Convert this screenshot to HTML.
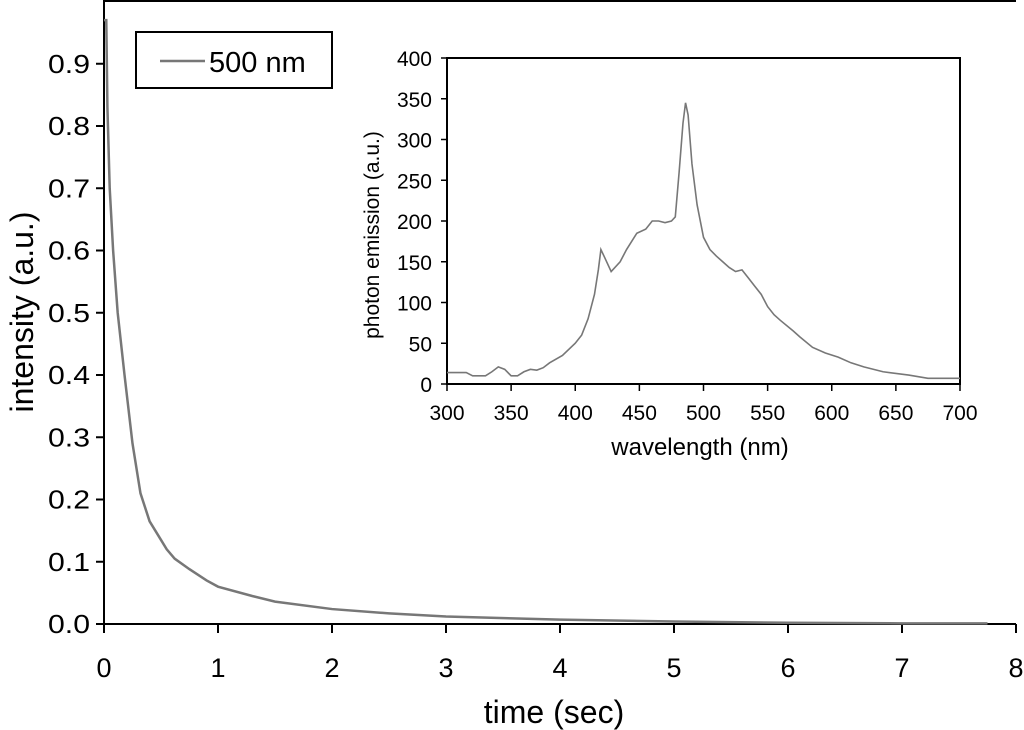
<!DOCTYPE html>
<html><head><meta charset="utf-8"><style>
html,body{margin:0;padding:0;background:#fff;}
svg{display:block;font-family:"Liberation Sans",Arial,sans-serif;}
</style></head><body>
<svg id="chart" width="1024" height="730" viewBox="0 0 1024 730"></svg>
<script>
const mainT=[0,0.02,0.03,0.05,0.08,0.12,0.18,0.25,0.32,0.4,0.5,0.55,0.62,0.75,0.9,1.0,1.3,1.5,2,2.5,3,4,5,6,7,7.75];
const mainI=[0.97,0.97,0.83,0.7,0.6,0.5,0.4,0.29,0.21,0.165,0.135,0.12,0.105,0.088,0.07,0.06,0.045,0.036,0.024,0.017,0.012,0.007,0.004,0.002,0.001,0.001];
const mainXTicks=[0,1,2,3,4,5,6,7,8];
const mainYTicks=["0.0","0.1","0.2","0.3","0.4","0.5","0.6","0.7","0.8","0.9"];
const insW=[300,315,320,330,335,340,345,350,355,360,365,370,375,380,390,400,405,410,415,418,420,423,428,435,440,448,455,460,465,470,475,478,481,484,486,488,491,495,500,505,510,515,520,525,530,535,540,545,550,555,560,570,575,585,595,605,615,625,640,660,675,700];
const insV=[14,14,10,10,15,21,18,10,10,15,18,17,20,26,35,50,60,80,110,140,165,155,138,150,165,185,190,200,200,198,200,205,260,320,345,330,270,220,180,165,157,150,143,138,140,130,120,110,95,85,78,65,58,45,38,33,26,21,15,11,7,7];
const insXTicks=[300,350,400,450,500,550,600,650,700];
const insYTicks=[0,50,100,150,200,250,300,350,400];

const svg=document.getElementById('chart');
const NS='http://www.w3.org/2000/svg';
function mk(tag,attrs,parent){const e=document.createElementNS(NS,tag);for(const k in attrs)e.setAttribute(k,attrs[k]);(parent||svg).appendChild(e);return e;}
function txt(s,attrs){const e=mk('text',attrs);e.textContent=s;return e;}

const X=t=>104+t*114, Y=v=>624-v*622.5;
let e;
e=mk('line',{x1:104,y1:0,x2:104,y2:624,stroke:'#000','stroke-width':2});

e=mk('line',{x1:104,y1:1,x2:1016,y2:1,stroke:'#000','stroke-width':2});

e=mk('line',{x1:104,y1:624,x2:1016,y2:624,stroke:'#000','stroke-width':2});

mainXTicks.forEach(t=>{
  mk('line',{x1:X(t),y1:624,x2:X(t),y2:633,stroke:'#000','stroke-width':2});
  e=txt(String(t),{x:X(t),y:677,'font-size':27,'text-anchor':'middle'});
  
});
mainYTicks.forEach(s=>{
  const v=parseFloat(s);
  mk('line',{x1:96,y1:Y(v),x2:104,y2:Y(v),stroke:'#000','stroke-width':2});
  e=txt(s,{x:90,y:Y(v)+9,'font-size':26,'text-anchor':'end',textLength:42,lengthAdjust:'spacingAndGlyphs'});
  
});
e=txt('time (sec)',{x:554,y:723,'font-size':32,'text-anchor':'middle'});

e=txt('intensity (a.u.)',{x:0,y:0,'font-size':32,'text-anchor':'middle',transform:'translate(33,312) rotate(-90)'});

e=mk('polyline',{points:mainT.map((t,i)=>X(t)+','+Y(mainI[i])).join(' '),fill:'none',stroke:'#777','stroke-width':2.5});


const lg=mk('g',{});

mk('rect',{x:136,y:32,width:196,height:56,fill:'#fff',stroke:'#000','stroke-width':2},lg);
mk('line',{x1:160,y1:61,x2:205,y2:61,stroke:'#777','stroke-width':2.5},lg);
e=mk('text',{x:209,y:72,'font-size':29},lg);e.textContent='500 nm';


const IX=w=>447+(w-300)*(513/400), IY=v=>384-v*(326/400);
e=mk('rect',{x:447,y:58,width:513,height:326,fill:'#fff',stroke:'#000','stroke-width':2});

insXTicks.forEach(w=>{
  mk('line',{x1:IX(w),y1:384,x2:IX(w),y2:391,stroke:'#000','stroke-width':1.5});
  e=txt(String(w),{x:IX(w),y:420,'font-size':21,'text-anchor':'middle'});
  
});
insYTicks.forEach(v=>{
  mk('line',{x1:441,y1:IY(v),x2:447,y2:IY(v),stroke:'#000','stroke-width':1.5});
  e=txt(String(v),{x:432,y:IY(v)+8,'font-size':21,'text-anchor':'end'});
  
});
e=txt('wavelength (nm)',{x:700,y:455,'font-size':24,'text-anchor':'middle'});

e=txt('photon emission (a.u.)',{x:0,y:0,'font-size':21,'text-anchor':'middle',transform:'translate(379,235) rotate(-90)'});

e=mk('polyline',{points:insW.map((w,i)=>IX(w)+','+IY(insV[i])).join(' '),fill:'none',stroke:'#777','stroke-width':1.6});

</script>
</body></html>
